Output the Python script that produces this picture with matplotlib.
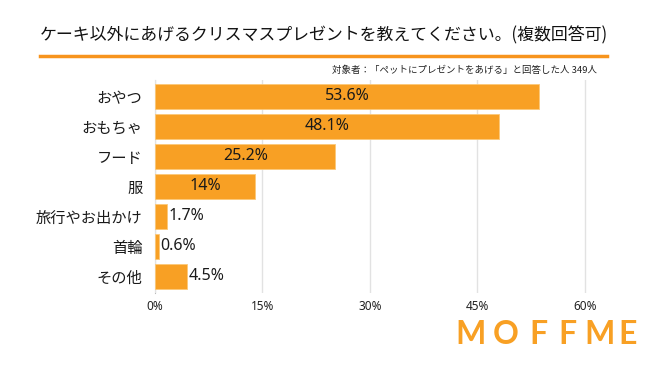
import matplotlib
matplotlib.use('Agg')
import matplotlib.pyplot as plt

plt.rcParams['font.family'] = ['Noto Sans CJK JP', 'DejaVu Sans']

categories = ['おやつ', 'おもちゃ', 'フード', '服', '旅行やお出かけ', '首輪', 'その他']
values = [53.6, 48.1, 25.2, 14, 1.7, 0.6, 4.5]
value_labels = ['53.6%', '48.1%', '25.2%', '14%', '1.7%', '0.6%', '4.5%']
x_ticks = [0, 15, 30, 45, 60]
x_tick_labels = ['0%', '15%', '30%', '45%', '60%']

title = 'ケーキ以外にあげるクリスマスプレゼントを教えてください。(複数回答可)'
note = '対象者：「ペットにプレゼントをあげる」と回答した人 349人'

orange = '#F8A024'
num_font = ['Noto Sans', 'DejaVu Sans']

fig = plt.figure(figsize=(6.5, 3.66), dpi=100)
ax = fig.add_axes([155 / 650, 1 - 293 / 366, 444 / 650, 213 / 366])

y = list(range(len(categories)))
ax.barh(y, values, height=0.83, color=orange, edgecolor='#FBC878', linewidth=0.6, zorder=2)
ax.set_ylim(6.55, -0.55)
ax.set_xlim(0, 62)

for i, (v, lab) in enumerate(zip(values, value_labels)):
    if v > 10:
        ax.text(v / 2, i, lab, ha='center', va='center', fontsize=11.5, family=num_font,
                color='#1a1a1a', zorder=3)
    else:
        ax.text(v + 0.2, i, lab, ha='left', va='center', fontsize=11.5, family=num_font,
                color='#1a1a1a', zorder=3)

ax.set_yticks(y)
ax.set_yticklabels(categories, fontsize=11, color='#1a1a1a')
ax.set_xticks(x_ticks)
ax.set_xticklabels(x_tick_labels, fontsize=8.5, color='#222222', family=num_font)
ax.tick_params(axis='both', length=0)
ax.tick_params(axis='y', pad=9)
ax.tick_params(axis='x', pad=5)
ax.grid(axis='x', color='#e2e2e2', linewidth=1, zorder=0)
for s in ['top', 'right', 'bottom']:
    ax.spines[s].set_visible(False)
ax.spines['left'].set_color('#bbbbbb')
ax.spines['left'].set_zorder(1)

fig.text(40 / 650, 1 - 35 / 366, title, fontsize=12.2, ha='left', va='center', color='#111111')
fig.add_artist(plt.Line2D([40 / 650, 607 / 650], [1 - 56 / 366, 1 - 56 / 366], color='#F7941D', linewidth=2.5))
fig.text(597 / 650, 1 - 70 / 366, note, fontsize=6.8, ha='right', va='center', color='#222222')

# logo letters
logo = 'MOFFME'
logo_x = [471, 506, 538, 567, 600, 628]
for ch, lx in zip(logo, logo_x):
    fig.text(lx / 650, 1 - 334 / 366, ch, fontsize=23, family='Lato', fontweight='bold',
             ha='center', va='center', color=orange)

fig.savefig('out.png', dpi=100)
